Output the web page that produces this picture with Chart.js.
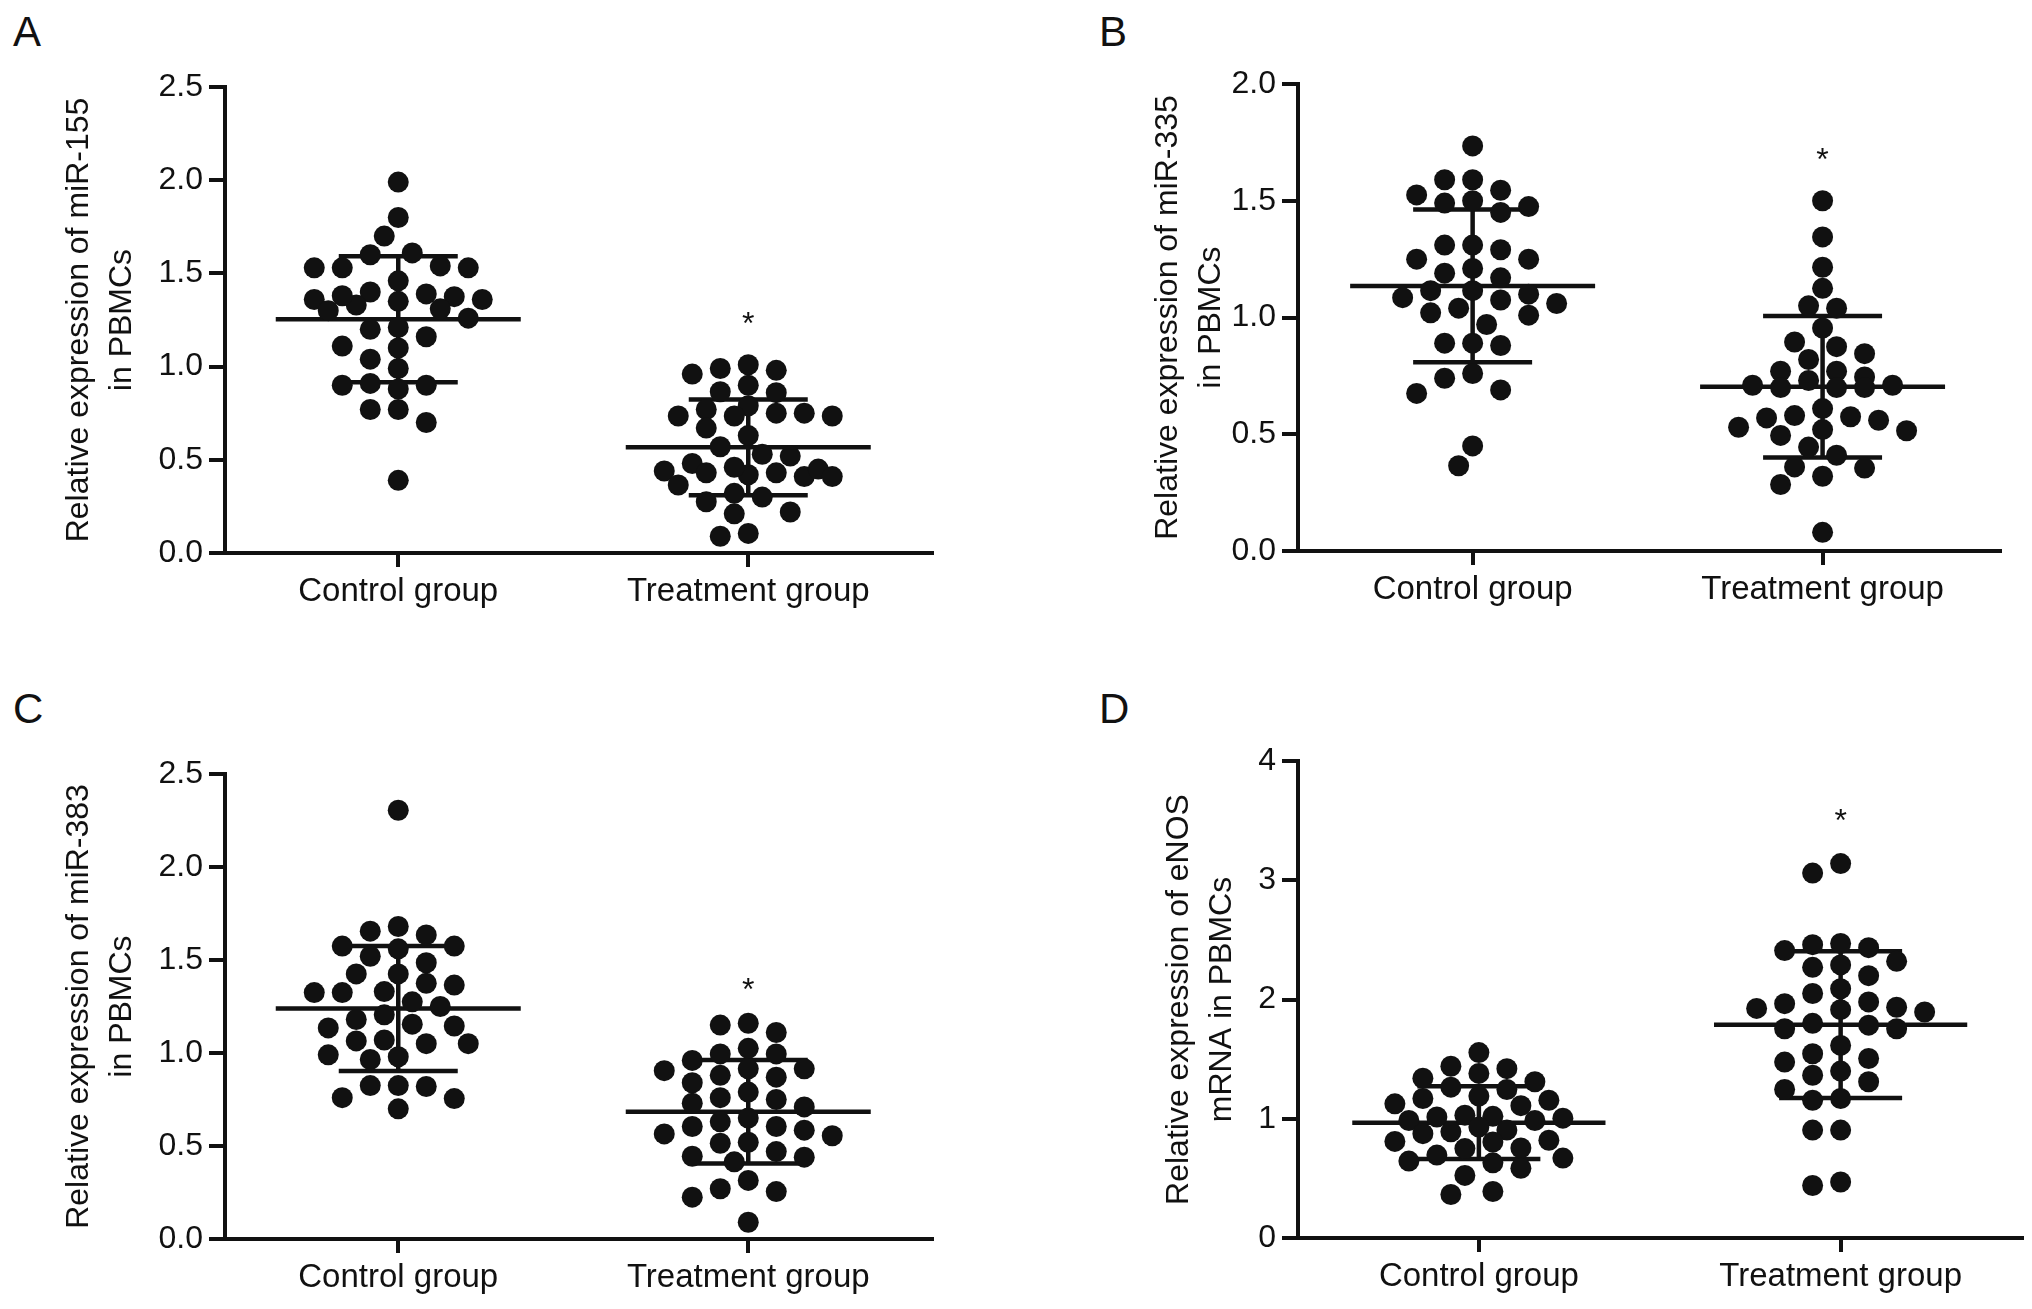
<!DOCTYPE html>
<html>
<head>
<meta charset="utf-8">
<title>Relative expression in PBMCs</title>
<script src="https://cdn.jsdelivr.net/npm/chart.js@4.4.1/dist/chart.umd.min.js"></script>
<style>
  html, body { margin: 0; padding: 0; background: #ffffff; }
  #page { position: relative; width: 2032px; height: 1309px; overflow: hidden; }
  canvas { position: absolute; }
  .letter {
    position: absolute;
    font-family: "Liberation Sans", Arial, sans-serif;
    font-size: 42px;
    line-height: 1;
    color: #111111;
  }
</style>
</head>
<body>
<div id="page">
  <div class="letter" style="left:13px; top:11px;">A</div>
  <div class="letter" style="left:1099px; top:11px;">B</div>
  <div class="letter" style="left:13px; top:688px;">C</div>
  <div class="letter" style="left:1099px; top:688px;">D</div>
  <canvas id="chartA" width="1016" height="654" style="left:0; top:0;"></canvas>
  <canvas id="chartB" width="1016" height="654" style="left:1016px; top:0;"></canvas>
  <canvas id="chartC" width="1016" height="655" style="left:0; top:654px;"></canvas>
  <canvas id="chartD" width="1016" height="655" style="left:1016px; top:654px;"></canvas>
</div>

<script>
// ===============================
// Data
// ===============================

const groups = ["Control group", "Treatment group"];

// A - miR-155
const miR155Control = [1.99, 1.80, 1.70, 1.61, 1.60, 1.53, 1.53, 1.53, 1.54, 1.46, 1.36, 1.40,
    1.33, 1.39, 1.30, 1.375, 1.36, 1.38, 1.35, 1.31, 1.26, 1.20, 1.21, 1.16, 1.10, 1.11, 1.04,
    0.99, 0.90, 0.88, 0.90, 0.91, 0.77, 0.77, 0.70, 0.39];
const miR155Treatment = [1.01, 0.98, 0.96, 0.99, 0.90, 0.865, 0.86, 0.77, 0.79, 0.75, 0.735,
    0.735, 0.735, 0.75, 0.67, 0.63, 0.53, 0.52, 0.57, 0.41, 0.44, 0.48, 0.42, 0.45, 0.43, 0.46,
    0.41, 0.43, 0.365, 0.30, 0.275, 0.32, 0.21, 0.22, 0.09, 0.105];
const miR155Mean = [1.254, 0.567];
const miR155SD = [0.338, 0.257];

// B - miR-335
const miR335Control = [1.735, 1.59, 1.59, 1.525, 1.545, 1.49, 1.45, 1.475, 1.50, 1.31, 1.31,
    1.25, 1.29, 1.25, 1.21, 1.19, 1.17, 1.115, 1.115, 1.085, 1.06, 1.10, 1.075, 1.02, 1.04, 1.01,
    0.97, 0.89, 0.88, 0.89, 0.76, 0.74, 0.69, 0.675, 0.45, 0.365];
const miR335Treatment = [1.50, 1.345, 1.215, 1.125, 1.04, 1.05, 0.955, 0.875, 0.895, 0.845, 0.82,
    0.77, 0.77, 0.745, 0.71, 0.70, 0.70, 0.71, 0.70, 0.73, 0.61, 0.58, 0.52, 0.57, 0.495, 0.56,
    0.575, 0.515, 0.53, 0.445, 0.41, 0.36, 0.355, 0.32, 0.285, 0.08];
const miR335Mean = [1.135, 0.703];
const miR335SD = [0.327, 0.303];

// C - miR-383
const miR383Control = [2.305, 1.68, 1.655, 1.635, 1.575, 1.56, 1.575, 1.52, 1.485, 1.425, 1.425,
    1.365, 1.375, 1.325, 1.325, 1.33, 1.275, 1.25, 1.205, 1.18, 1.155, 1.135, 1.145, 1.065, 1.05,
    1.05, 1.07, 0.98, 0.965, 0.99, 0.825, 0.825, 0.82, 0.76, 0.755, 0.70];
const miR383Treatment = [1.16, 1.11, 1.15, 1.025, 0.995, 0.995, 0.96, 0.905, 0.87, 0.915, 0.915,
    0.88, 0.84, 0.79, 0.75, 0.76, 0.71, 0.73, 0.63, 0.65, 0.605, 0.585, 0.565, 0.605, 0.555, 0.515,
    0.52, 0.445, 0.415, 0.44, 0.47, 0.315, 0.225, 0.27, 0.255, 0.09];
const miR383Mean = [1.239, 0.684];
const miR383SD = [0.336, 0.278];

// D - eNOS mRNA
const eNOSControl = [1.555, 1.38, 1.42, 1.44, 1.31, 1.245, 1.265, 1.34, 1.125, 1.17, 1.155, 1.19,
    1.11, 1.03, 1.02, 1.015, 0.985, 0.985, 1.005, 0.875, 0.905, 0.93, 0.89, 0.81, 0.82, 0.755,
    0.805, 0.695, 0.75, 0.645, 0.63, 0.67, 0.585, 0.525, 0.365, 0.39];
const eNOSTreatment = [3.14, 3.06, 2.47, 2.435, 2.41, 2.46, 2.32, 2.27, 2.29, 2.20, 2.09, 2.05,
    1.965, 1.935, 1.98, 1.925, 1.895, 1.915, 1.785, 1.755, 1.755, 1.80, 1.615, 1.505, 1.475, 1.545,
    1.365, 1.40, 1.31, 1.245, 1.155, 1.17, 0.905, 0.905, 0.44, 0.47];
const eNOSMean = [0.967, 1.789];
const eNOSSD = [0.305, 0.615];

// significance stars (height of the "*" above the treatment group)
const starLevels = [1.27, 1.71, 1.38, 3.565];

// y axis ticks
const yMax = [2.5, 2.0, 2.5, 4];
const yStep = [0.5, 0.5, 0.5, 1];
const yDecimals = [1, 1, 1, 0];

const yTitles = [
    ["Relative expression of miR-155", "in PBMCs"],
    ["Relative expression of miR-335", "in PBMCs"],
    ["Relative expression of miR-383", "in PBMCs"],
    ["Relative expression of eNOS", "mRNA in PBMCs"]
];

// ===============================
// Look & layout
// ===============================

const INK = "#111111";
const FONT = '"Liberation Sans", Arial, sans-serif';
Chart.defaults.font.family = FONT;
Chart.defaults.color = INK;

const DOT_RADIUS = 10.5;
const COL_PITCH = 28;      // px between jitter columns
const ROW_PITCH = 20;      // px, min vertical gap inside one column
const MAX_COLS = 3;        // columns each side of the centre
const MEAN_HALF = 0.35;    // x units
const CAP_HALF = 0.17;

const panels = [
    { id: "chartA", control: miR155Control, treatment: miR155Treatment, mean: miR155Mean, sd: miR155SD,
      xMin: 0.505, xMax: 2.525, yWidth: 225, xHeight: 101, pad: { top: 87, right: 84, left: 0, bottom: 0 }, titlePad: 58 },
    { id: "chartB", control: miR335Control, treatment: miR335Treatment, mean: miR335Mean, sd: miR335SD,
      xMin: 0.501, xMax: 2.507, yWidth: 282, xHeight: 103, pad: { top: 84, right: 32, left: 0, bottom: 0 }, titlePad: 131 },
    { id: "chartC", control: miR383Control, treatment: miR383Treatment, mean: miR383Mean, sd: miR383SD,
      xMin: 0.505, xMax: 2.525, yWidth: 225, xHeight: 70, pad: { top: 120, right: 84, left: 0, bottom: 0 }, titlePad: 58 },
    { id: "chartD", control: eNOSControl, treatment: eNOSTreatment, mean: eNOSMean, sd: eNOSSD,
      xMin: 0.5, xMax: 2.5, yWidth: 282, xHeight: 71, pad: { top: 107, right: 10, left: 0, bottom: 0 }, titlePad: 142 }
];

// mean line + SD whiskers, one broken line dataset
function summaryPoints(mean, sd) {
    const pts = [];
    mean.forEach((m, i) => {
        const c = i + 1;
        const s = sd[i];
        pts.push({ x: c - MEAN_HALF, y: m }, { x: c + MEAN_HALF, y: m }, { x: c, y: null });
        pts.push({ x: c - CAP_HALF, y: m + s }, { x: c + CAP_HALF, y: m + s }, { x: c, y: null });
        pts.push({ x: c - CAP_HALF, y: m - s }, { x: c + CAP_HALF, y: m - s }, { x: c, y: null });
        pts.push({ x: c, y: m + s }, { x: c, y: m - s }, { x: c, y: null });
    });
    return pts;
}

// "*" above the treatment column
const starPlugin = {
    id: "star",
    afterDatasetsDraw(chart, args, opts) {
        const ctx = chart.ctx;
        const x = chart.scales.x.getPixelForValue(2);
        const y = chart.scales.y.getPixelForValue(opts.level);
        ctx.save();
        ctx.fillStyle = INK;
        ctx.font = "32px " + FONT;
        ctx.textAlign = "center";
        ctx.textBaseline = "alphabetic";
        ctx.fillText("*", x, y + 18);
        ctx.restore();
    }
};

// spread dots sideways in half-column steps, Prism style (overlap allowed a little)
function swarm(chart, dsIndex, center) {
    const xs = chart.scales.x;
    const ys = chart.scales.y;
    const data = chart.data.datasets[dsIndex].data;
    const cx = xs.getPixelForValue(center);
    const order = data.map((p, i) => i).sort((a, b) => data[b].y - data[a].y);
    const placed = [];
    order.forEach(i => {
        const py = ys.getPixelForValue(data[i].y);
        let best = cx;
        let bestScore = Infinity;
        for (let k = 0; k <= MAX_COLS * 4; k++) {
            const off = (k % 2 ? -1 : 1) * Math.ceil(k / 2) * (COL_PITCH / 2);
            const tx = cx + off;
            let worst = 0;
            placed.forEach(p => {
                const d = ((p.x - tx) / COL_PITCH) ** 2 + ((p.y - py) / ROW_PITCH) ** 2;
                if (d < 1) worst = Math.max(worst, 1 - d);
            });
            if (worst === 0) { best = tx; break; }
            if (worst < bestScore) { bestScore = worst; best = tx; }
        }
        placed.push({ x: best, y: py });
        data[i].x = xs.getValueForPixel(best);
    });
}

panels.forEach((p, n) => {
    const ctx = document.getElementById(p.id);
    const chart = new Chart(ctx, {
        type: "scatter",
        data: {
            datasets: [
                {
                    label: groups[0],
                    data: p.control.map(v => ({ x: 1, y: v })),
                    pointRadius: DOT_RADIUS,
                    pointBackgroundColor: INK,
                    pointBorderWidth: 0,
                    clip: false
                },
                {
                    label: groups[1],
                    data: p.treatment.map(v => ({ x: 2, y: v })),
                    pointRadius: DOT_RADIUS,
                    pointBackgroundColor: INK,
                    pointBorderWidth: 0,
                    clip: false
                },
                {
                    label: "Mean ± SD",
                    data: summaryPoints(p.mean, p.sd),
                    showLine: true,
                    spanGaps: false,
                    pointRadius: 0,
                    borderColor: INK,
                    borderWidth: 4.5,
                    borderCapStyle: "butt",
                    clip: false
                }
            ]
        },
        options: {
            responsive: false,
            animation: false,
            devicePixelRatio: 1,
            events: [],
            layout: { padding: p.pad },
            plugins: {
                legend: { display: false },
                tooltip: { enabled: false },
                star: { level: starLevels[n] }
            },
            scales: {
                x: {
                    type: "linear",
                    min: p.xMin,
                    max: p.xMax,
                    afterBuildTicks: (scale) => { scale.ticks = [{ value: 1 }, { value: 2 }]; },
                    afterFit: (scale) => { scale.height = p.xHeight; },
                    ticks: {
                        callback: (v) => groups[v - 1],
                        font: { size: 33 },
                        color: INK,
                        padding: 5,
                        maxRotation: 0,
                        autoSkip: false
                    },
                    grid: {
                        display: true,
                        drawOnChartArea: false,
                        drawTicks: true,
                        tickLength: 14,
                        lineWidth: 4,
                        color: INK
                    },
                    border: { display: true, width: 4, color: INK }
                },
                y: {
                    min: 0,
                    max: yMax[n],
                    afterFit: (scale) => { scale.width = p.yWidth; },
                    ticks: {
                        stepSize: yStep[n],
                        callback: (v) => Number(v).toFixed(yDecimals[n]),
                        font: { size: 32 },
                        color: INK,
                        padding: 6
                    },
                    grid: {
                        display: true,
                        drawOnChartArea: false,
                        drawTicks: true,
                        tickLength: 16,
                        lineWidth: 4,
                        color: INK
                    },
                    border: { display: true, width: 4, color: INK },
                    title: {
                        display: true,
                        text: yTitles[n],
                        font: { size: 32, lineHeight: 1.34 },
                        color: INK,
                        padding: { top: p.titlePad, bottom: 0 }
                    }
                }
            }
        },
        plugins: [starPlugin]
    });

    swarm(chart, 0, 1);
    swarm(chart, 1, 2);
    chart.update("none");
});
</script>
</body>
</html>
